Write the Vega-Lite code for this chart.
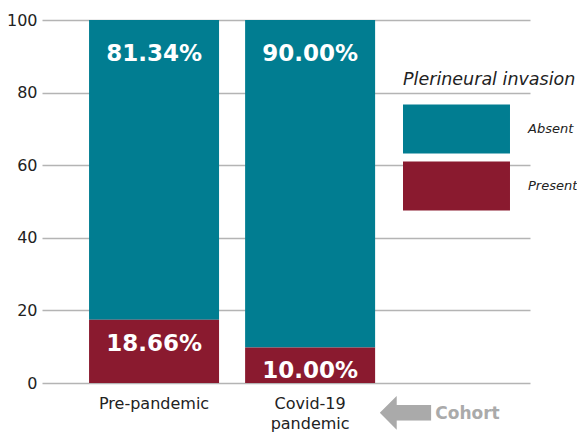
{
  "$schema": "https://vega.github.io/schema/vega-lite/v6.json",
  "width": 488,
  "height": 363,
  "autosize": {"type": "none"},
  "padding": {"left": 42, "top": 20, "right": 47, "bottom": 51},
  "config": {"font": "DejaVu Sans", "view": {"stroke": null}},
  "data": {
    "values": [
      {"cohort": "Pre-pandemic", "invasion": "Absent", "pct": 82.6, "label": "81.34%"},
      {"cohort": "Pre-pandemic", "invasion": "Present", "pct": 17.4, "label": "18.66%"},
      {"cohort": "Covid-19 pandemic", "invasion": "Absent", "pct": 90.2, "label": "90.00%"},
      {"cohort": "Covid-19 pandemic", "invasion": "Present", "pct": 9.8, "label": "10.00%"}
    ]
  },
  "transform": [
    {"stack": "pct", "groupby": ["cohort"], "sort": [{"field": "invasion", "order": "descending"}], "as": ["y0", "y1"]}
  ],
  "resolve": {"axis": {"x": "independent"}},
  "layer": [
    {
      "mark": {"type": "bar"},
      "encoding": {
        "x": {
          "field": "cohort",
          "type": "nominal",
          "scale": {"domain": ["Pre-pandemic", "Covid-19 pandemic"], "paddingInner": 0.167, "paddingOuter": 0.647, "align": 0.233},
          "axis": {
            "orient": "bottom",
            "title": "Cohort",
            "titleColor": "#aaaaaa",
            "titleFontSize": 17,
            "titleFontWeight": "bold",
            "titleX": 425,
            "titleY": 30,
            "titleBaseline": "middle",
            "titleAlign": "center",
            "labelAngle": 0,
            "labelFontSize": 16,
            "labelColor": "#222222",
            "labelPadding": 12,
            "labelLineHeight": 20,
            "labelExpr": "split(datum.label, ' ')",
            "domain": false,
            "ticks": false,
            "grid": false
          }
        },
        "y": {
          "field": "y0",
          "type": "quantitative",
          "scale": {"domain": [0, 100], "nice": false},
          "axis": {
            "title": null,
            "values": [0, 20, 40, 60, 80, 100],
            "labelFontSize": 16,
            "labelColor": "#222222",
            "labelPadding": 5,
            "domain": false,
            "ticks": false,
            "grid": true,
            "gridColor": "#b4b4b4",
            "gridWidth": 1.5
          }
        },
        "y2": {"field": "y1"},
        "color": {
          "field": "invasion",
          "type": "nominal",
          "scale": {"domain": ["Absent", "Present"], "range": ["#017D91", "#8A1A2F"]},
          "legend": {
            "title": "Plerineural invasion",
            "orient": "none",
            "legendX": 361,
            "legendY": 51,
            "titleFontSize": 17.5,
            "titleFontStyle": "italic",
            "titleFontWeight": "normal",
            "titleColor": "#222222",
            "titlePadding": 16,
            "symbolType": "M-1,-1L3.367,-1L3.367,1L-1,1Z",
            "symbolSize": 2401,
            "symbolStrokeWidth": 0,
            "symbolOpacity": 1,
            "labelFontSize": 13,
            "labelFontStyle": "italic",
            "labelColor": "#222222",
            "labelOffset": 76,
            "rowPadding": 8
          }
        }
      }
    },
    {
      "transform": [{"filter": "datum.invasion == 'Absent'"}],
      "mark": {"type": "text", "dy": 34, "color": "white", "fontWeight": "bold", "fontSize": 23, "baseline": "middle"},
      "encoding": {
        "x": {"field": "cohort", "type": "nominal", "axis": null},
        "y": {"field": "y1", "type": "quantitative"},
        "text": {"field": "label"}
      }
    },
    {
      "transform": [{"filter": "datum.invasion == 'Present'"}],
      "mark": {"type": "text", "dy": 24, "color": "white", "fontWeight": "bold", "fontSize": 23, "baseline": "middle"},
      "encoding": {
        "x": {
          "field": "cohort",
          "type": "nominal",
          "axis": {
            "orient": "bottom",
            "title": "⬅",
            "titleColor": "#aaaaaa",
            "titleFontSize": 68,
            "titleFontWeight": "normal",
            "titleX": 364,
            "titleY": 30,
            "titleBaseline": "middle",
            "titleAlign": "center",
            "labels": false,
            "domain": false,
            "ticks": false,
            "grid": false
          }
        },
        "y": {"field": "y1", "type": "quantitative"},
        "text": {"field": "label"}
      }
    }
  ]
}
